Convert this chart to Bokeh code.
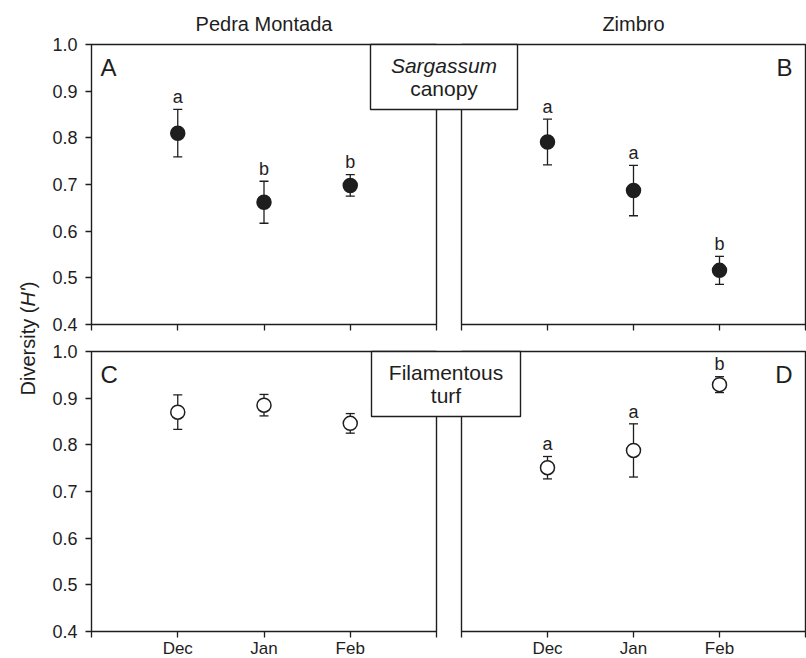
import numpy as np
from bokeh.plotting import figure
from bokeh.models import (Range1d, LinearAxis, FixedTicker, NumeralTickFormatter,
                          Label, BoxAnnotation, ColumnDataSource)
from bokeh.core.properties import value
from bokeh.embed import file_html
from bokeh.resources import INLINE

# ---------------- data ----------------
months = ["Dec", "Jan", "Feb"]
month_x = [1, 2, 3]
x_ticks = [0, 1, 2, 3, 4]
y_ticks = [0.4, 0.5, 0.6, 0.7, 0.8, 0.9, 1.0]

sites = ["Pedra Montada", "Zimbro"]
habitat_top = ["Sargassum", "canopy"]
habitat_bottom = ["Filamentous", "turf"]
panel_letters = ["A", "B", "C", "D"]

pm_canopy_mean = [0.810, 0.662, 0.698]
pm_canopy_se = [0.051, 0.045, 0.023]
pm_canopy_sig = ["a", "b", "b"]

zb_canopy_mean = [0.791, 0.687, 0.516]
zb_canopy_se = [0.049, 0.054, 0.030]
zb_canopy_sig = ["a", "a", "b"]

pm_turf_mean = [0.870, 0.885, 0.846]
pm_turf_se = [0.037, 0.023, 0.021]
pm_turf_sig = ["", "", ""]

zb_turf_mean = [0.751, 0.788, 0.929]
zb_turf_se = [0.024, 0.057, 0.017]
zb_turf_sig = ["a", "a", "b"]

# ---------------- layout ----------------
W, H = 806, 658
FL, FR, FT, FB = 0, 806, 0, 658            # frame = whole canvas
PX = {"L": (91, 436), "R": (461, 805)}     # panel x extents
PY = {"top": (44, 324), "bot": (351, 631)}  # panel y extents (y of 1.0, y of 0.4)
XMIN, XMAX = 0, 4
YMIN, YMAX = 0.4, 1.0
FONT = "Liberation Sans"
INK = "#1e1e1e"
LW = 1.4
BFIX = 0.35   # baseline compensation (em) for alphabetic text


def xd(name, px):
    p0, p1 = PX[name]
    return XMIN + (px - p0) * (XMAX - XMIN) / (p1 - p0)


def yd(name, py):
    p0, p1 = PY[name]
    return YMAX - (py - p0) * (YMAX - YMIN) / (p1 - p0)


def ypx(name):
    p0, p1 = PY[name]
    return (YMAX - YMIN) / (p1 - p0)


def ybase(name, py, fs):
    """data y for a desired alphabetic baseline at canvas py, font size fs"""
    return yd(name, py - BFIX * fs)


p = figure(width=W, height=H, x_range=Range1d(0, 1), y_range=Range1d(0, 1),
           x_axis_location=None, y_axis_location=None,
           toolbar_location=None, output_backend="svg",
           min_border_left=0, min_border_right=0,
           min_border_top=0, min_border_bottom=0,
           outline_line_color=None, background_fill_color="white")
p.xgrid.visible = False
p.ygrid.visible = False

p.extra_x_ranges = {n: Range1d(xd(n, FL), xd(n, FR)) for n in PX}
p.extra_y_ranges = {n: Range1d(yd(n, FB), yd(n, FT)) for n in PY}

panels = [
    ("L", "top", pm_canopy_mean, pm_canopy_se, pm_canopy_sig, INK, "A", "left"),
    ("R", "top", zb_canopy_mean, zb_canopy_se, zb_canopy_sig, INK, "B", "right"),
    ("L", "bot", pm_turf_mean, pm_turf_se, pm_turf_sig, "white", "C", "left"),
    ("R", "bot", zb_turf_mean, zb_turf_se, zb_turf_sig, "white", "D", "right"),
]

SIG_FS = 18
for xr, yr, mean, se, sig, fill, letter, side in panels:
    m = np.array(mean)
    s = np.array(se)
    src = ColumnDataSource(dict(x=month_x, mean=m, upper=m + s, lower=m - s,
                                sig=sig,
                                sig_y=m + s + (6 + BFIX * SIG_FS) * ypx(yr)))
    kw = dict(x_range_name=xr, y_range_name=yr)
    # panel frame
    p.quad(left=XMIN, right=XMAX, bottom=YMIN, top=YMAX, fill_color=None,
           line_color=INK, line_width=LW, **kw)
    # error bars
    p.segment(x0="x", y0="lower", x1="x", y1="upper", source=src,
              line_color=INK, line_width=1.3, **kw)
    p.scatter("x", "upper", source=src, marker="dash", size=9,
              line_color=INK, line_width=1.3, **kw)
    p.scatter("x", "lower", source=src, marker="dash", size=9,
              line_color=INK, line_width=1.3, **kw)
    # means
    p.scatter("x", "mean", source=src, size=14, fill_color=fill,
              line_color=INK, line_width=1.5, **kw)
    # significance letters
    p.text("x", "sig_y", text="sig", source=src, text_align="center",
           text_baseline="alphabetic", text_font=value(FONT),
           text_font_size=f"{SIG_FS}px", text_color=INK, **kw)

    # x axis (ticks, labels on bottom row only)
    if yr == "bot":
        ticks = x_ticks
        overrides = {0: "", 1: months[0], 2: months[1], 3: months[2], 4: ""}
    else:
        ticks = x_ticks
        overrides = {t: "" for t in x_ticks}
    ax = LinearAxis(x_range_name=xr, y_range_name=yr, fixed_location=YMIN,
                    bounds=(XMIN, XMAX), ticker=FixedTicker(ticks=ticks),
                    major_label_overrides=overrides,
                    axis_line_color=None, major_tick_in=0, major_tick_out=6,
                    major_tick_line_color=INK, major_tick_line_width=1.3,
                    minor_tick_line_color=None, major_label_standoff=1,
                    major_label_text_font=FONT, major_label_text_font_size="17px",
                    major_label_text_color=INK)
    p.add_layout(ax, "below")

    if xr == "L":
        ay = LinearAxis(x_range_name=xr, y_range_name=yr, fixed_location=XMIN,
                        bounds=(YMIN, YMAX), ticker=FixedTicker(ticks=y_ticks),
                        formatter=NumeralTickFormatter(format="0.0"),
                        axis_line_color=None, major_tick_in=0, major_tick_out=6,
                        major_tick_line_color=INK, major_tick_line_width=1.3,
                        minor_tick_line_color=None, major_label_standoff=8,
                        major_label_text_font=FONT, major_label_text_font_size="18px",
                        major_label_text_color=INK)
        p.add_layout(ay, "left")

    # panel letter
    p0, p1 = PX[xr]
    if side == "left":
        lx, align = xd(xr, p0 + 9), "left"
    else:
        lx, align = xd(xr, p1 - 13), "right"
    p.add_layout(Label(x=lx, y=ybase(yr, PY[yr][0] + 31, 24), text=letter,
                       x_range_name=xr, y_range_name=yr, text_align=align,
                       text_baseline="alphabetic", text_font=FONT,
                       text_font_size="24px", text_color=INK))

# site titles
for name, site in zip(["L", "R"], sites):
    p.add_layout(Label(x=(XMIN + XMAX) / 2, y=ybase("top", 30, 20), text=site,
                       x_range_name=name, y_range_name="top", text_align="center",
                       text_baseline="alphabetic", text_font=FONT,
                       text_font_size="20px", text_color=INK))

# habitat boxes
for yr, lines, (bx0, bx1), italic in [("top", habitat_top, (370, 517), True),
                                      ("bot", habitat_bottom, (371, 520), False)]:
    top_px = PY[yr][0]
    p.add_layout(BoxAnnotation(left=xd("L", bx0), right=xd("L", bx1),
                               top=yd(yr, top_px), bottom=yd(yr, top_px + 65),
                               x_range_name="L", y_range_name=yr,
                               fill_color="white", fill_alpha=1.0,
                               line_color=INK, line_alpha=1.0, line_width=LW))
    cx = xd("L", (bx0 + bx1) / 2)
    p.add_layout(Label(x=cx, y=ybase(yr, top_px + 28, 21), text=lines[0],
                       x_range_name="L", y_range_name=yr, text_align="center",
                       text_baseline="alphabetic", text_font=FONT,
                       text_font_style="italic" if italic else "normal",
                       text_font_size="21px", text_color=INK))
    p.add_layout(Label(x=cx, y=ybase(yr, top_px + 51, 21), text=lines[1],
                       x_range_name="L", y_range_name=yr, text_align="center",
                       text_baseline="alphabetic", text_font=FONT,
                       text_font_size="21px", text_color=INK))

# y-axis title, composed of pieces: "Diversity (" + italic "H'" + ")"
ylab_x = xd("L", 27)
pieces = [("Diversity (", "normal", 88.9), ("H'", "italic", 18.3), (")", "normal", 6.7)]
total = sum(w for _, _, w in pieces)
start = 338 + total / 2
for txt, style, w in pieces:
    p.add_layout(Label(x=ylab_x, y=yd("top", start), text=txt, angle=np.pi / 2,
                       x_range_name="L", y_range_name="top", text_align="left",
                       text_baseline="middle", text_font=FONT,
                       text_font_style=style, text_font_size="20px",
                       text_color=INK))
    start -= w

open("out.html", "w").write(file_html(p, INLINE))
